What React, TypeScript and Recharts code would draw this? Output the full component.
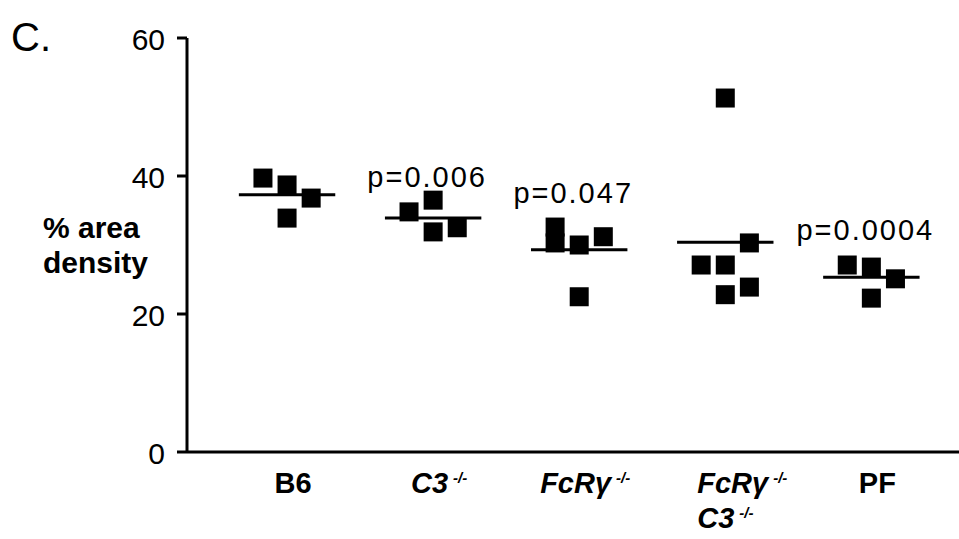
import React from 'react';
import { ScatterChart, Scatter, XAxis, YAxis, ReferenceLine, ReferenceDot } from 'recharts';

const FONT = '"Liberation Sans", Arial, Helvetica, sans-serif';

// groups along the x axis
const groupNames = ['B6', 'C3', 'FcRγ', 'FcRγ C3', 'PF'];
const isKnockout = [false, true, true, true, false];

// % area density per animal
const b6Values = [39.7, 38.7, 36.8, 33.9];
const c3Values = [34.8, 36.5, 31.9, 32.5];
const fcrValues = [32.6, 30.3, 30.0, 31.2, 22.5];
const fcrC3Values = [51.3, 30.3, 27.1, 27.1, 22.8, 23.9];
const pfValues = [27.1, 26.8, 25.1, 22.3];

// dot-plot column of each animal inside its group (-1 left, 0 middle, 1 right)
const b6Columns = [-1, 0, 1, 0];
const c3Columns = [-1, 0, 0, 1];
const fcrColumns = [-1, -1, 0, 1, 0];
const fcrC3Columns = [0, 1, -1, 0, 0, 1];
const pfColumns = [-1, 0, 1, 0];

const yTicks = [0, 20, 40, 60];

// p values vs B6
const pGroups = [1, 2, 4];
const pTexts = ['p=0.006', 'p=0.047', 'p=0.0004'];
const pHeights = [38.4, 36.1, 30.7];

const groupValues = [b6Values, c3Values, fcrValues, fcrC3Values, pfValues];
const groupColumns = [b6Columns, c3Columns, fcrColumns, fcrC3Columns, pfColumns];

const COL_STEP = 0.165;
const HALF_LINE = 0.33;

const mean = (arr: number[]) => arr.reduce((a, b) => a + b, 0) / arr.length;

const SquareDot = (props: any) => {
  const { cx, cy } = props;
  return <rect x={cx - 9.5} y={cy - 9.5} width={19} height={19} fill="#000" />;
};

const XTick = ({ x, y, payload }: any) => {
  const i = payload.value;
  const lines = groupNames[i].split(' ');
  const multi = lines.length > 1;
  const tx = multi ? x - 28 : x + 6;
  const sup = 10;
  return (
    <text
      x={tx}
      y={y + 41}
      textAnchor={multi ? 'start' : 'middle'}
      fontFamily={FONT}
      fontWeight="bold"
      fontStyle={isKnockout[i] ? 'italic' : 'normal'}
      fontSize={29}
      fill="#000"
    >
      {lines.map((line, k) => (
        <React.Fragment key={k}>
          <tspan x={multi ? tx : undefined} dy={k === 0 ? 0 : 35 + (isKnockout[i] ? sup : 0)}>
            {line}
          </tspan>
          {isKnockout[i] && (
            <tspan dx={5} dy={-sup} fontSize={15}>
              -/-
            </tspan>
          )}
        </React.Fragment>
      ))}
    </text>
  );
};

const YTick = ({ x, y, payload }: any) => (
  <text x={x} y={y + 12} textAnchor="end" fontFamily={FONT} fontSize={30} fill="#000">
    {payload.value}
  </text>
);

const AxisTitle = () => (
  <g fontFamily={FONT} fill="#000">
    <text x={11} y={51} fontSize={40}>C.</text>
    <text x={43} y={238} fontSize={30} fontWeight="bold">% area</text>
    <text x={43} y={273} fontSize={30} fontWeight="bold">density</text>
  </g>
);

export default function App() {
  return (
    <div style={{ width: 959, height: 539, background: '#fff' }}>
      <style>{'body{margin:0}'}</style>
      <ScatterChart width={959} height={539} margin={{ top: 38, right: 0, bottom: 7, left: 127 }}>
        <XAxis
          type="number"
          dataKey="x"
          domain={[-0.685, 4.6]}
          ticks={[0, 1, 2, 3, 4]}
          axisLine={{ stroke: '#000', strokeWidth: 3 }}
          tickLine={false}
          tickSize={0}
          tickMargin={0}
          tick={<XTick />}
          height={80}
          allowDataOverflow
        />
        <YAxis
          type="number"
          dataKey="y"
          domain={[0, 60]}
          ticks={yTicks}
          axisLine={{ stroke: '#000', strokeWidth: 3 }}
          tickLine={{ stroke: '#000', strokeWidth: 3 }}
          tickSize={10}
          tickMargin={12}
          tick={<YTick />}
          width={60}
          label={{ content: () => <AxisTitle /> }}
        />
        {groupValues.map((vals, g) => (
          <Scatter
            key={groupNames[g]}
            data={vals.map((v, k) => ({ x: g + groupColumns[g][k] * COL_STEP, y: v }))}
            shape={<SquareDot />}
            isAnimationActive={false}
          />
        ))}
        {groupValues.map((vals, g) => (
          <ReferenceLine
            key={'m' + g}
            segment={[
              { x: g - HALF_LINE, y: mean(vals) },
              { x: g + HALF_LINE, y: mean(vals) },
            ]}
            stroke="#000"
            strokeWidth={3}
          />
        ))}
        {pGroups.map((g, k) => (
          <ReferenceDot
            key={'p' + k}
            x={g}
            y={pHeights[k]}
            r={0}
            stroke="none"
            fill="none"
            label={{
              value: pTexts[k],
              position: 'center',
              content: (props: any) => (
                <text
                  x={props.viewBox.x - 6}
                  y={props.viewBox.y}
                  textAnchor="middle"
                  fontFamily={FONT}
                  fontSize={29}
                  letterSpacing={2}
                  fill="#000"
                >
                  {pTexts[k]}
                </text>
              ),
            }}
          />
        ))}
      </ScatterChart>
    </div>
  );
}
